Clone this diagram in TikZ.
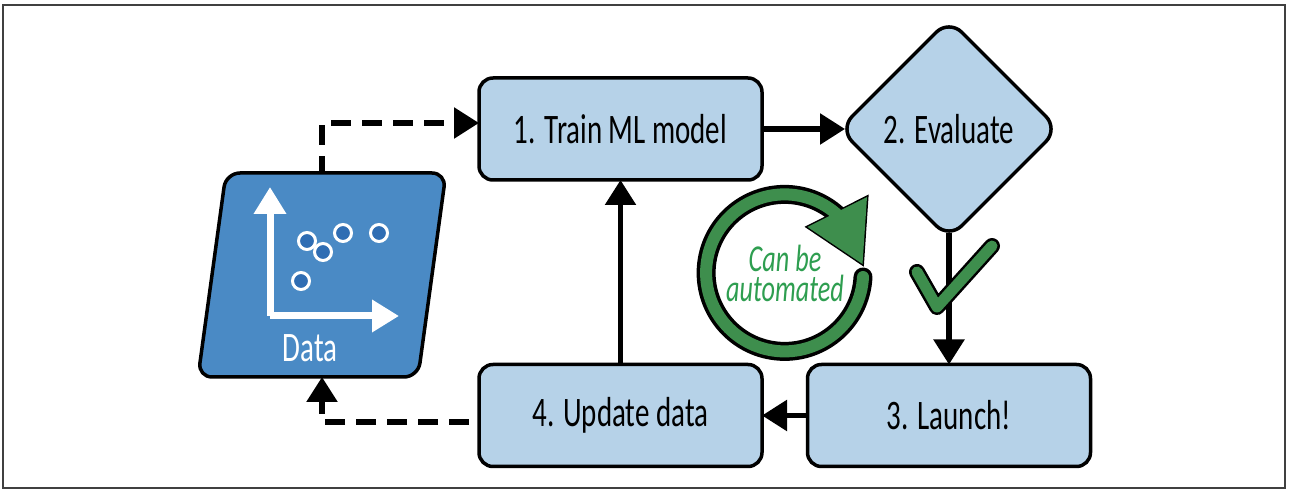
\documentclass[tikz,border=0pt]{standalone}
\usepackage{fontspec}
\setmainfont[FakeStretch = 0.69]{Carlito}
\usetikzlibrary{arrows.meta, shapes.geometric}

\definecolor{boxblue}{HTML}{B6D2E8}
\definecolor{datablue}{HTML}{4A8AC5}
\definecolor{dotblue}{HTML}{2F6DB3}
\definecolor{loopgreen}{HTML}{3E8E4D}
\definecolor{textgreen}{HTML}{2E9E50}

\tikzset{
	stepbox/.style = {draw, line width = 3.5pt, fill = boxblue, rounded corners = 14pt, minimum width = 283pt, minimum height = 102pt, inner sep = 0pt, outer sep = 0pt, font = \fontsize{42}{42}\selectfont},
	flow/.style = {line width = 5.5pt, -{Triangle[length = 25pt, width = 30pt]}},
	flowdash/.style = {flow, dash pattern = on 20pt off 11pt},
	datadot/.style = {draw = white, line width = 3pt, fill = dotblue},
	axisline/.style = {white, line width = 7pt, line join = round, -{Triangle[length = 27pt, width = 31pt]}}
}

\begin{document}
\begin{tikzpicture}[x = 1pt, y = 1pt]
	\useasboundingbox (0,0) rectangle (1290,492);
	\draw [line width = 1.5pt, black!75] (3,4) rectangle (1285,487);

	\node [stepbox] (train) at (620.5,363) {1. Train ML model};
	\node [stepbox] (update) at (620.5,76.5) {4. Update data};
	\node [stepbox] (launch) at (949,76.5) {3. Launch!};
	\node [diamond, stepbox, minimum width = 219pt, minimum height = 219pt, rounded corners = 18pt] (evaluate) at (949,363) {2. Evaluate};

	\begin{scope}[shift = {(322,217)}]
		\node [xslant = 0.137, transform shape, draw, line width = 3.5pt, fill = datablue, rounded corners = 14pt, minimum width = 220pt, minimum height = 204pt, inner sep = 0pt, outer sep = 0pt] (data) at (0,0) {};
	\end{scope}

	\begin{scope}
		\draw [flowdash, dash phase = 3pt] (data.north -| data.center) |- ([yshift = 6pt]train.west);
		\draw [flowdash, dash phase = 21pt] ([yshift = -6.5pt]update.west) -| (data.south -| data.center);
	\end{scope}

	\begin{scope}
		\draw [flow, shorten > = -5.5pt] (train.east) -- (evaluate.west);
		\draw [flow, shorten < = -5.5pt] (evaluate.south) -- (launch.north);
		\draw [flow] (launch.west) -- (update.east);
		\draw [flow] (update.north) -- (train.south);
	\end{scope}

	% data icon
	\begin{scope}
		\draw [axisline] (270,176) -- (270,305);
		\draw [axisline] (270,176) -- (399,176);
		\foreach \i/\j in {307/251, 323/240, 343/259, 379/259, 301/211} {
			\draw [datadot] (\i,\j) circle (8.5pt);
		}
		\node [white, font = \fontsize{42}{42}\selectfont] (datalabel) at (310,144) {Data};
	\end{scope}

	% automation loop
	\begin{scope}
		\draw [black, line width = 19pt, line cap = round] (863,215) arc [start angle = -3, end angle = -312, radius = 78.5];
		\draw [black, fill = black, line width = 3pt, line join = miter] (867,295) -- (807.5,265) -- (862.5,228) -- cycle;
		\draw [loopgreen, line width = 12pt, line cap = round] (863,215) arc [start angle = -3, end angle = -312, radius = 78.5];
		\fill [loopgreen] (867,295) -- (807.5,265) -- (862.5,228) -- cycle;
	\end{scope}
	\node [textgreen, align = center, font = \fontsize{38}{30}\selectfont\itshape] (looplabel) at (785,219) {Can be\\automated};

	% check mark
	\begin{scope}
		\draw [black, line width = 16pt, line cap = round, line join = round] (917,220) -- (937,185) -- (992,246);
		\draw [loopgreen, line width = 11pt, line cap = round, line join = round] (917,220) -- (937,185) -- (992,246);
	\end{scope}
\end{tikzpicture}
\end{document}
